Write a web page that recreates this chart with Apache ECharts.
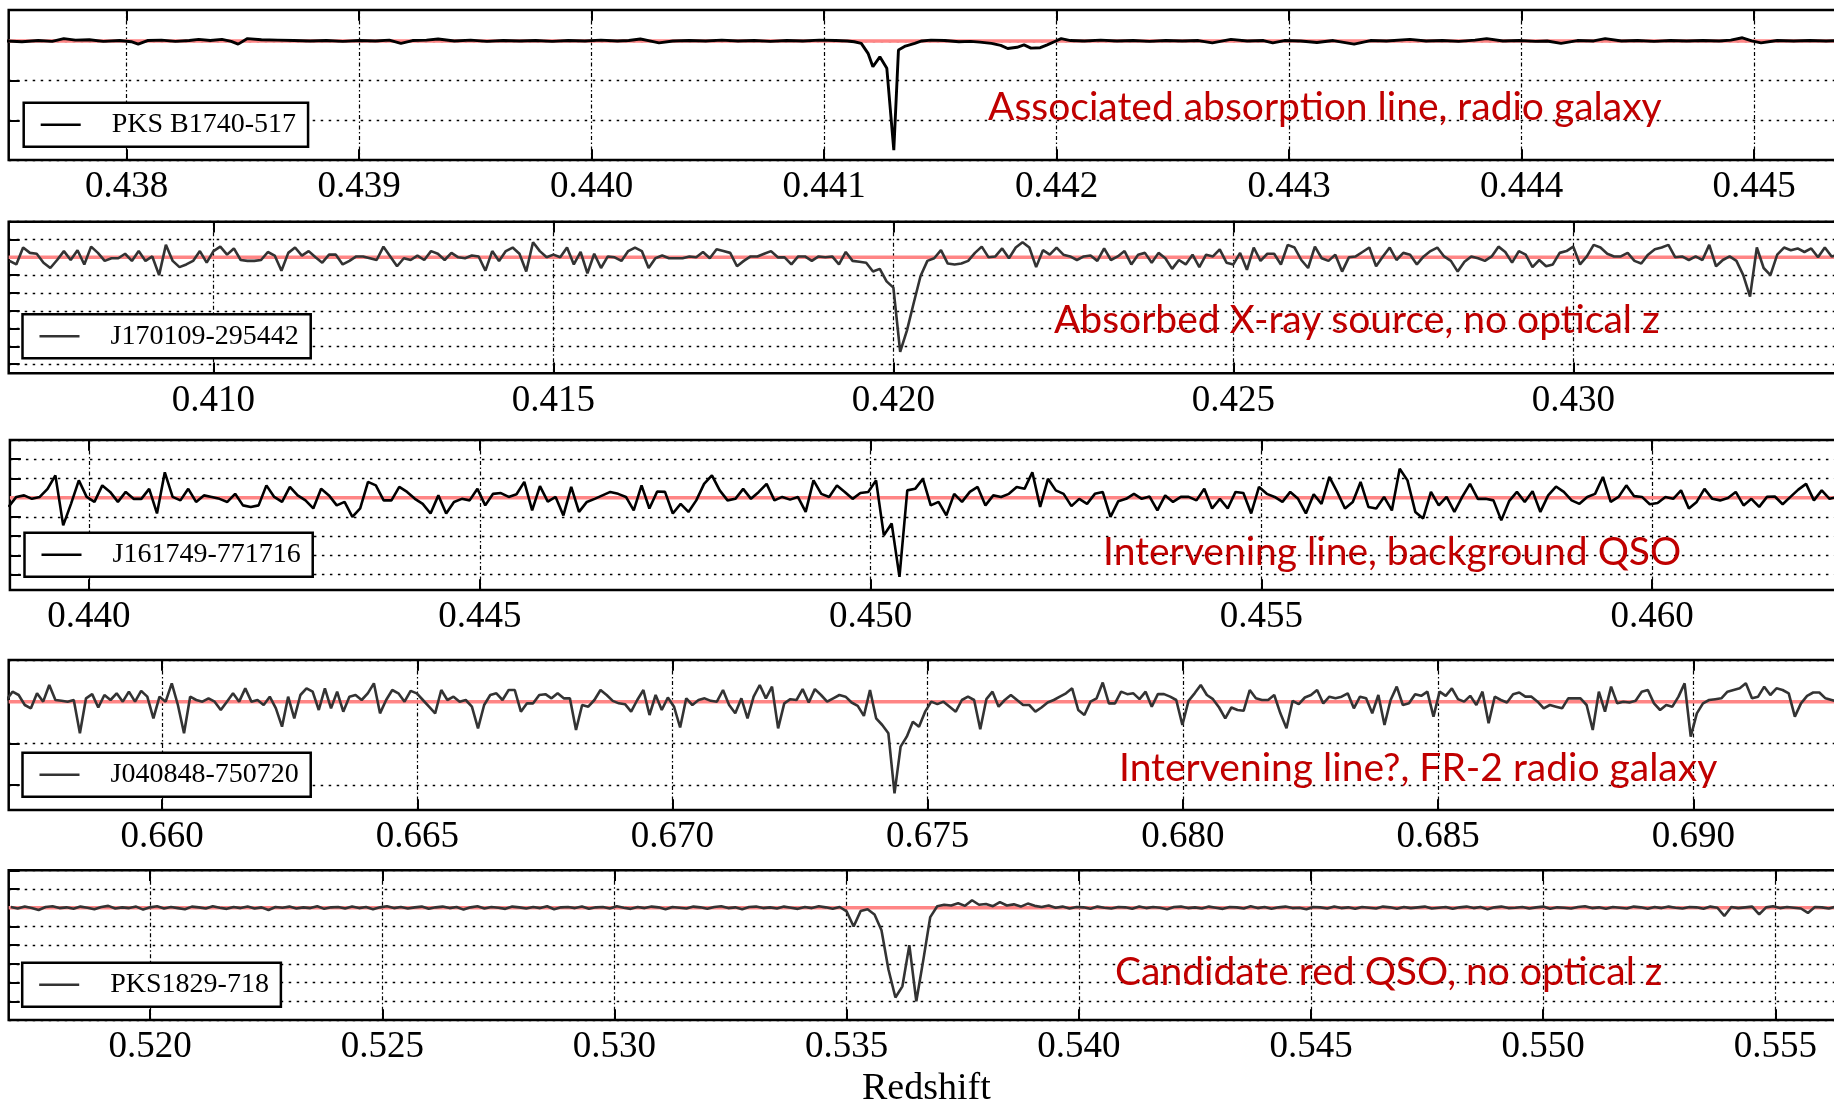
<!DOCTYPE html>
<html>
<head>
<meta charset="utf-8">
<script src="https://cdn.jsdelivr.net/npm/echarts@6/dist/echarts.min.js"></script>
<style>
  html, body { margin: 0; padding: 0; background: #fff; }
  #chart { width: 1834px; height: 1104px; }
</style>
</head>
<body>
<div id="chart"></div>
<script>
// Normalised HI absorption spectra against redshift, five sources.

const CONTINUUM = 1.0;

// PKS B1740-517: [redshift, normalised flux]
const fluxPKSB1740 = [
  [0.43748,1.000],[0.43755,0.998],[0.43762,1.001],[0.43768,0.999],[0.43773,1.006],[0.43778,1.002],[0.43784,1.003],[0.43790,0.999],
  [0.43797,1.001],[0.43802,0.998],[0.43805,0.992],[0.43809,1.001],[0.43815,1.002],[0.43821,0.999],[0.43827,1.001],[0.43831,1.004],
  [0.43836,1.001],[0.43841,1.004],[0.43845,0.999],[0.43848,0.992],[0.43852,1.006],[0.43858,1.003],[0.43865,1.002],[0.43872,1.001],
  [0.43879,1.000],[0.43886,1.001],[0.43893,0.999],[0.43900,1.001],[0.43907,1.000],[0.43913,1.002],[0.43918,0.994],[0.43923,1.001],
  [0.43929,1.002],[0.43934,1.005],[0.43941,1.000],[0.43948,1.002],[0.43955,0.999],[0.43962,1.001],[0.43969,1.000],[0.43976,1.001],
  [0.43983,0.999],[0.43990,1.001],[0.43997,1.000],[0.44004,1.002],[0.44011,1.000],[0.44016,1.001],[0.44021,1.005],[0.44025,1.000],
  [0.44029,0.995],[0.44035,1.000],[0.44042,1.001],[0.44049,1.000],[0.44056,1.002],[0.44063,1.000],[0.44070,1.001],[0.44077,0.999],
  [0.44084,1.001],[0.44091,1.000],[0.44098,1.002],[0.44105,1.001],[0.44110,1.000],[0.44113,0.998],[0.44116,0.994],[0.44119,0.968],
  [0.44121,0.935],[0.44124,0.960],[0.44127,0.931],[0.44130,0.725],[0.44132,0.977],[0.44135,0.987],[0.44139,0.994],[0.44142,1.000],
  [0.44146,1.002],[0.44152,1.001],[0.44158,0.998],[0.44163,0.999],[0.44167,0.997],[0.44172,0.994],[0.44176,0.989],[0.44179,0.981],
  [0.44183,0.984],[0.44186,0.990],[0.44189,0.982],[0.44193,0.983],[0.44196,0.990],[0.44199,0.998],[0.44202,1.006],[0.44206,1.001],
  [0.44212,1.000],[0.44219,1.002],[0.44226,1.000],[0.44233,1.001],[0.44240,0.999],[0.44247,1.001],[0.44254,1.000],[0.44261,1.001],
  [0.44267,0.995],[0.44275,1.004],[0.44282,1.000],[0.44289,1.001],[0.44293,0.995],[0.44298,1.001],[0.44305,1.000],[0.44312,0.996],
  [0.44319,1.001],[0.44328,0.992],[0.44335,1.001],[0.44342,1.000],[0.44352,1.004],[0.44359,1.000],[0.44366,1.001],[0.44373,0.999],
  [0.44380,1.002],[0.44385,1.006],[0.44392,1.000],[0.44399,1.001],[0.44406,0.999],[0.44411,1.000],[0.44417,0.994],[0.44424,1.001],
  [0.44431,1.000],[0.44436,1.006],[0.44443,1.000],[0.44450,1.001],[0.44457,0.999],[0.44464,1.001],[0.44471,1.000],[0.44478,1.001],
  [0.44485,1.000],[0.44490,1.002],[0.44495,1.008],[0.44499,1.000],[0.44503,0.995],[0.44510,1.001],[0.44517,1.000],[0.44524,1.001],
  [0.44531,1.000],[0.44538,1.001],[0.44545,1.000]
];

// J170109-295442: channels from z = 0.40700, dz = 0.0001
const startJ1701 = 0.40700, stepJ1701 = 0.0001;
const fluxJ1701 = [
  0.996,0.992,1.011,1.005,1.004,0.994,0.988,0.997,1.007,0.997,
  1.008,0.992,1.012,1.005,0.996,0.999,0.999,1.004,0.996,1.007,
  0.996,1.001,0.980,1.014,0.996,0.989,0.992,0.996,1.007,0.994,
  1.007,1.012,1.003,1.010,0.997,0.996,0.996,0.997,1.006,1.002,
  0.985,1.005,1.011,1.002,1.007,1.000,0.994,1.003,1.003,0.992,
  0.996,1.001,1.001,0.999,0.997,1.012,1.001,0.990,0.999,0.997,
  1.002,0.997,1.007,1.004,0.997,1.005,1.000,0.999,1.002,1.001,
  0.985,1.007,0.996,1.007,1.011,1.004,0.984,1.017,1.007,1.000,
  1.003,1.000,1.011,0.992,1.006,0.982,1.004,0.988,1.001,1.000,
  0.996,1.007,1.011,1.007,0.988,0.999,1.002,0.999,0.999,0.999,
  1.001,1.000,1.006,0.999,1.009,1.007,1.005,0.990,0.996,1.001,
  1.001,1.004,1.007,1.000,1.000,0.992,1.001,1.001,0.996,1.001,
  1.000,1.001,0.992,1.006,0.996,0.995,0.994,0.984,0.987,0.973,
  0.966,0.894,0.918,0.949,0.979,0.996,0.999,1.008,0.993,0.992,
  0.993,0.996,1.005,1.012,1.000,1.001,1.010,0.999,1.011,1.017,
  1.011,0.989,1.008,1.003,1.011,1.003,1.001,0.997,1.001,1.002,
  0.996,1.010,0.997,1.001,1.007,0.992,1.003,1.005,0.994,1.005,
  0.999,0.987,0.997,0.992,1.003,0.989,1.003,1.001,1.009,0.994,
  0.992,1.005,0.986,1.011,0.996,1.004,1.004,0.992,1.014,1.011,
  0.997,0.988,1.012,0.999,0.996,1.003,0.984,1.000,1.001,1.006,
  1.011,0.990,1.001,1.011,0.997,1.005,1.003,0.992,1.001,1.007,
  1.011,1.001,0.996,0.984,0.995,1.001,0.999,0.996,1.001,1.012,
  1.006,0.994,1.007,1.003,0.989,0.997,0.990,0.992,1.005,1.007,
  1.012,0.992,1.001,1.014,1.011,1.004,1.001,1.001,1.005,0.996,
  0.993,1.003,1.009,1.011,1.014,1.000,1.001,0.997,1.001,0.997,
  1.014,0.990,0.997,1.001,0.996,0.980,0.956,1.011,0.988,0.980,
  1.003,1.011,1.008,1.010,1.006,1.010,1.000,1.011,1.001,1.003,1.002
];

// J161749-771716: channels from z = 0.43897, dz = 0.0001
const startJ1617 = 0.43897, stepJ1617 = 0.0001;
const fluxJ1617 = [
  0.976,1.002,1.006,0.997,1.002,1.023,1.058,0.928,0.984,1.045,
  1.002,0.989,1.032,1.015,0.989,1.015,0.997,0.997,1.023,0.959,
  1.066,1.002,0.993,1.023,0.989,1.006,1.002,0.997,0.989,1.010,
  0.980,0.976,0.980,1.032,1.002,0.989,1.028,1.006,0.993,0.972,
  1.023,1.006,0.980,0.989,0.950,0.972,1.041,1.032,0.993,0.993,
  1.028,1.015,0.997,0.984,0.959,1.006,0.959,0.989,0.997,0.993,
  1.023,0.980,1.010,1.012,1.002,1.009,1.041,0.967,1.030,0.990,
  1.002,0.954,1.028,0.963,0.989,0.997,1.006,1.015,1.010,1.002,
  0.967,1.032,0.972,1.016,1.015,0.959,0.984,0.963,0.993,1.036,
  1.058,1.019,0.993,0.997,1.023,0.997,1.015,1.036,0.993,1.002,
  0.995,1.002,0.963,1.045,1.010,1.002,1.032,1.015,0.997,1.012,
  1.015,1.045,0.902,0.933,0.794,1.019,1.023,1.049,0.980,0.989,
  0.954,1.010,0.989,1.015,1.028,0.980,1.006,1.002,1.010,1.028,
  1.023,1.066,0.976,1.049,1.019,1.010,0.978,0.997,0.984,1.010,
  1.015,0.950,0.991,0.997,1.010,0.997,1.003,0.967,1.006,0.989,
  1.002,1.002,0.993,1.023,0.972,0.997,0.972,1.015,1.012,0.959,
  1.028,1.010,1.002,0.989,1.015,0.997,0.959,1.009,0.984,1.054,
  1.015,0.972,0.989,1.041,0.976,0.972,1.002,0.967,1.075,1.045,
  0.963,0.946,1.015,0.980,1.002,0.963,1.002,1.036,0.997,0.997,
  0.993,0.941,0.991,1.015,0.989,1.017,0.963,1.006,1.029,1.015,
  0.993,0.984,1.002,1.010,1.054,0.989,1.002,1.032,1.004,1.002,
  0.983,0.986,1.002,0.997,1.019,0.972,0.989,1.023,0.997,0.993,
  0.999,1.015,0.980,0.997,0.976,1.002,1.003,0.983,1.002,1.021,
  1.036,0.993,1.019,0.997,1.002,1.000
];

// J040848-750720: channels from z = 0.65695, dz = 0.00012
const startJ0408 = 0.65695, stepJ0408 = 0.00012;
const fluxJ0408 = [
  1.004,1.024,1.016,0.992,0.984,1.020,1.000,1.040,1.004,1.002,
  1.000,1.004,0.924,1.008,1.018,0.986,1.016,1.004,1.020,1.000,
  1.024,1.000,1.026,1.012,0.960,1.012,1.000,1.044,0.992,0.924,
  1.012,1.004,1.000,1.008,1.000,0.980,1.000,1.020,1.000,1.032,
  1.000,1.004,0.992,1.012,0.984,0.940,1.012,0.960,1.016,1.032,
  1.024,0.980,1.032,0.984,1.024,0.976,1.012,1.016,1.004,1.020,
  1.044,0.972,1.004,1.028,1.020,1.000,1.026,1.020,1.004,0.988,
  0.972,1.028,1.004,1.012,1.000,1.004,0.988,0.936,0.992,1.016,
  1.020,1.004,1.028,1.028,0.976,0.996,0.996,1.016,1.018,1.008,
  1.020,1.008,1.008,0.932,0.992,0.988,1.004,1.028,1.016,1.002,
  0.996,0.994,0.976,1.004,1.028,0.968,1.016,0.980,1.010,0.988,
  0.938,1.008,0.992,1.004,1.008,1.002,1.000,1.028,0.992,0.972,
  1.008,0.960,1.012,1.040,1.008,1.036,0.936,0.996,1.006,1.004,
  1.030,0.998,1.030,1.016,1.000,1.008,1.016,1.012,0.998,0.990,
  0.966,1.028,0.960,0.944,0.924,0.780,0.892,0.916,0.952,0.940,
  0.976,1.000,0.994,1.000,0.988,0.976,1.004,1.012,1.004,0.934,
  1.006,1.024,0.988,1.004,1.016,1.004,0.992,0.992,0.976,0.986,
  0.998,1.004,1.012,1.020,1.032,0.980,0.968,1.000,1.008,1.046,
  0.996,0.996,1.024,1.018,1.020,1.006,1.024,0.988,1.018,1.018,
  1.012,1.004,0.944,1.002,1.020,1.040,1.016,1.006,0.986,0.960,
  0.986,0.980,0.978,1.028,1.008,1.004,1.004,1.016,0.972,0.936,
  1.002,0.994,1.010,1.016,1.028,0.996,1.012,1.008,1.012,1.020,
  0.984,1.012,1.008,0.972,1.016,0.944,1.004,1.036,0.992,0.996,
  1.018,1.014,1.024,0.964,1.024,1.014,1.032,1.006,1.000,1.014,
  0.992,1.024,0.948,1.012,1.004,0.998,1.018,1.022,1.012,1.012,
  1.000,0.984,0.992,0.988,0.984,1.008,1.008,1.008,0.992,0.932,
  1.024,0.976,1.036,0.996,1.000,0.998,1.002,1.024,1.028,0.996,
  0.980,0.992,0.988,1.012,1.044,0.916,0.972,0.996,1.004,1.006,
  1.008,1.024,1.028,1.032,1.044,1.008,1.012,1.036,1.016,1.032,
  1.028,1.020,0.964,0.996,1.014,1.022,1.022,1.008,1.004,1.000,1.006
];

// PKS1829-718: channels from z = 0.51700, dz = 0.00015
const startPKS1829 = 0.51700, stepPKS1829 = 0.00015;
const fluxPKS1829 = [
  1.002,0.998,1.003,0.999,0.994,1.002,1.004,0.999,1.001,0.997,
  1.003,1.000,0.996,1.002,1.005,0.998,1.001,0.999,1.003,0.995,
  1.001,1.004,0.998,1.002,0.999,0.996,1.003,1.001,0.998,1.004,
  1.000,0.997,1.002,0.999,1.003,0.998,1.001,0.994,1.002,1.000,
  1.003,0.998,1.001,0.999,1.004,0.997,1.001,1.002,0.998,1.003,
  0.999,1.002,0.996,1.001,1.004,0.999,1.002,0.998,1.001,1.003,
  0.997,1.001,1.003,0.999,1.002,0.995,1.001,1.004,0.998,1.002,
  1.000,0.997,1.003,1.001,0.998,1.002,0.999,1.004,0.996,1.001,
  1.002,0.999,1.003,0.997,1.001,1.002,0.998,1.004,1.000,0.997,
  1.002,0.999,1.003,1.001,0.996,1.002,1.000,0.998,1.003,1.001,
  0.997,1.002,1.004,0.999,1.001,0.996,1.002,1.003,0.999,1.001,
  0.998,1.003,1.000,0.997,1.002,0.999,1.004,1.001,0.997,1.002,
  0.990,0.950,0.991,0.996,0.982,0.940,0.835,0.760,0.790,0.900,
  0.750,0.860,0.975,1.004,1.008,1.006,1.012,1.005,1.020,1.008,
  1.010,1.004,1.015,1.006,1.009,1.003,1.011,1.005,1.002,1.006,
  1.000,1.003,0.998,1.002,1.001,0.997,1.003,1.000,0.998,1.002,
  1.001,0.997,1.003,0.999,1.002,1.000,0.996,1.002,1.003,0.999,
  1.001,0.998,1.003,1.000,0.997,1.002,1.001,0.998,1.004,0.999,
  1.002,0.997,1.001,1.003,0.999,1.000,0.996,1.002,1.001,0.998,
  1.003,0.999,1.001,0.997,1.002,1.000,0.998,1.003,1.001,0.997,
  1.002,0.999,1.001,1.003,0.998,1.000,1.002,0.997,1.001,1.003,
  0.999,1.002,0.996,1.001,1.003,0.999,1.000,1.002,0.998,1.001,
  1.003,0.997,1.001,1.000,0.998,1.002,1.004,0.999,1.001,0.997,
  1.002,1.000,0.998,1.003,1.001,0.997,1.002,0.999,1.003,1.000,
  0.998,1.002,1.001,0.997,1.003,1.000,0.978,1.002,0.999,1.001,
  1.003,0.982,1.001,1.004,0.999,1.002,1.000,0.998,0.986,1.002,
  1.001,0.998,1.003,1.000,1.002
];

// Axis extents and tick values
const xRange1 = [0.437493, 0.445387];
const xRange2 = [0.406988, 0.433982];
const xRange3 = [0.438988, 0.462455];
const xRange4 = [0.656995, 0.692953];
const xRange5 = [0.516955, 0.556477];

const xTicks1 = [0.438, 0.439, 0.440, 0.441, 0.442, 0.443, 0.444, 0.445];
const xTicks2 = [0.410, 0.415, 0.420, 0.425, 0.430];
const xTicks3 = [0.440, 0.445, 0.450, 0.455, 0.460];
const xTicks4 = [0.660, 0.665, 0.670, 0.675, 0.680, 0.685, 0.690];
const xTicks5 = [0.520, 0.525, 0.530, 0.535, 0.540, 0.545, 0.550, 0.555];

const yRange1 = [0.70, 1.078];
const yRange2 = [0.8698, 1.04];
const yRange3 = [0.76, 1.15];
const yRange4 = [0.74, 1.10];
const yRange5 = [0.70, 1.10];

const yTicks1 = [0.7, 0.8, 0.9, 1.0];
const yTicks2 = [0.88, 0.90, 0.92, 0.94, 0.96, 0.98, 1.00, 1.02, 1.04];
const yTicks3 = [0.80, 0.85, 0.90, 0.95, 1.00, 1.05, 1.10, 1.15];
const yTicks4 = [0.8, 0.9, 1.0, 1.1];
const yTicks5 = [0.70, 0.75, 0.80, 0.85, 0.90, 0.95, 1.00, 1.05, 1.10];

const sourceNames = ['PKS B1740-517', 'J170109-295442', 'J161749-771716', 'J040848-750720', 'PKS1829-718'];
const notes = [
  'Associated absorption line, radio galaxy',
  'Absorbed X-ray source, no optical z',
  'Intervening line, background QSO',
  'Intervening line?, FR-2 radio galaxy',
  'Candidate red QSO, no optical z'
];

function channelSeries(z0, dz, flux) {
  return flux.map((f, k) => [+(z0 + k * dz).toFixed(6), f]);
}

const spectra = [
  fluxPKSB1740,
  channelSeries(startJ1701, stepJ1701, fluxJ1701),
  channelSeries(startJ1617, stepJ1617, fluxJ1617),
  channelSeries(startJ0408, stepJ0408, fluxJ0408),
  channelSeries(startPKS1829, stepPKS1829, fluxPKS1829)
];
const xRanges = [xRange1, xRange2, xRange3, xRange4, xRange5];
const xTicks = [xTicks1, xTicks2, xTicks3, xTicks4, xTicks5];
const yRanges = [yRange1, yRange2, yRange3, yRange4, yRange5];
const yTicks = [yTicks1, yTicks2, yTicks3, yTicks4, yTicks5];

// Panel placement (pixels); the plot frames run past the right edge of the canvas
const PLOT_RIGHT = 1844;
const layout = [
  { left: 8.7, top: 10,    height: 150,   legendLeft: 23.7, legendTop: 102.7, noteX: 988,  noteY: 107.6 },
  { left: 8.7, top: 221.7, height: 151.6, legendLeft: 22.5, legendTop: 314.3, noteX: 1054, noteY: 320.5 },
  { left: 9.9, top: 440,   height: 150,   legendLeft: 24.5, legendTop: 532.7, noteX: 1103, noteY: 552 },
  { left: 8.7, top: 660,   height: 150,   legendLeft: 22.5, legendTop: 752.7, noteX: 1119, noteY: 768.5 },
  { left: 8.7, top: 870.3, height: 149.7, legendLeft: 22.2, legendTop: 962.7, noteX: 1115, noteY: 972 }
];
const lineColors = ['#000000', '#333333', '#000000', '#333333', '#333333'];
const lineWidths = [2.9, 2.6, 2.6, 2.6, 2.6];

const SERIF = 'Liberation Serif';
const hGrid = { color: '#000', width: 1.3, type: [2.5, 5.5] };
const vGrid = { color: '#000', width: 1.2, type: [4, 2.5, 1.5, 2.5] };
const tickStyle = { color: '#000', width: 2 };

const grid = [], xAxis = [], yAxis = [], series = [], legend = [], graphic = [];

layout.forEach((L, i) => {
  grid.push({
    left: L.left, top: L.top, width: PLOT_RIGHT - L.left, height: L.height,
    containLabel: false, outerBoundsMode: 'none',
    show: true, borderColor: '#000', borderWidth: 2.5, backgroundColor: 'transparent'
  });

  const bottomAxis = {
    type: 'value', gridIndex: i, position: 'bottom',
    min: xRanges[i][0], max: xRanges[i][1],
    axisLine: { show: false },
    axisTick: { show: true, inside: true, length: 10.7, customValues: xTicks[i], lineStyle: tickStyle },
    axisLabel: {
      show: true, customValues: xTicks[i], margin: 9,
      fontFamily: SERIF, fontSize: 37, color: '#000',
      formatter: v => Number(v).toFixed(3)
    },
    splitLine: { show: true, lineStyle: vGrid }
  };
  if (i === 4) {
    Object.assign(bottomAxis, {
      name: 'Redshift', nameLocation: 'middle', nameGap: 50,
      nameTextStyle: { fontFamily: SERIF, fontSize: 38, color: '#000' }
    });
  }
  xAxis.push(bottomAxis);
  xAxis.push({
    type: 'value', gridIndex: i, position: 'top',
    min: xRanges[i][0], max: xRanges[i][1],
    axisLine: { show: false },
    axisTick: { show: true, inside: true, length: 10.7, customValues: xTicks[i], lineStyle: tickStyle },
    axisLabel: { show: false },
    splitLine: { show: false }
  });

  yAxis.push({
    type: 'value', gridIndex: i,
    min: yRanges[i][0], max: yRanges[i][1],
    axisLine: { show: false },
    axisTick: { show: true, inside: true, length: 11, customValues: yTicks[i], lineStyle: tickStyle },
    axisLabel: { show: false, customValues: yTicks[i] },
    splitLine: { show: true, lineStyle: hGrid }
  });

  series.push({
    type: 'line', name: 'continuum ' + i, xAxisIndex: 2 * i, yAxisIndex: i,
    data: [[xRanges[i][0], CONTINUUM], [xRanges[i][1], CONTINUUM]],
    symbol: 'none', silent: true, z: 2,
    lineStyle: { color: '#ff8585', width: 3.5 }
  });
  series.push({
    type: 'line', name: sourceNames[i], xAxisIndex: 2 * i, yAxisIndex: i,
    data: spectra[i], symbol: 'none', z: 3,
    lineStyle: { color: lineColors[i], width: lineWidths[i] },
    itemStyle: { color: lineColors[i] }
  });

  legend.push({
    data: [sourceNames[i]], left: L.legendLeft, top: L.legendTop,
    orient: 'horizontal', icon: 'rect', itemWidth: 40, itemHeight: 2.5,
    padding: [8, 12, 8, 17], itemGap: 0,
    borderColor: '#000', borderWidth: 2.5, borderRadius: 0, backgroundColor: '#fff',
    selectedMode: false,
    textStyle: { fontFamily: SERIF, fontSize: 28, color: '#000', padding: [0, 0, 0, 26] }
  });

  graphic.push({
    type: 'text', x: L.noteX, y: L.noteY, z: 20, silent: true,
    style: {
      text: notes[i], fill: '#c00000', fontFamily: 'Lato', fontSize: 39,
      align: 'left', verticalAlign: 'middle'
    }
  });
});

const chart = echarts.init(document.getElementById('chart'), null, { renderer: 'canvas' });
chart.setOption({
  animation: false,
  backgroundColor: '#fff',
  grid, xAxis, yAxis, series, legend, graphic
});
</script>
</body>
</html>
